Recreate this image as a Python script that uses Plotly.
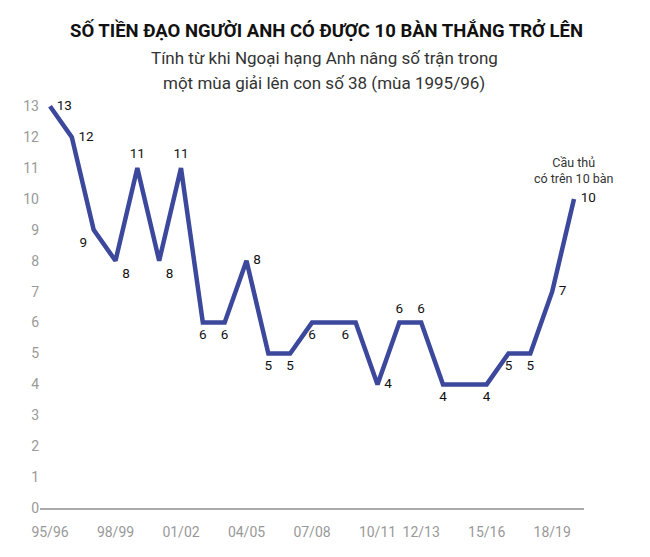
import plotly.graph_objects as go

# Seasons from 95/96 to 19/20
seasons = ['95/96', '96/97', '97/98', '98/99', '99/00', '00/01', '01/02', '02/03',
           '03/04', '04/05', '05/06', '06/07', '07/08', '08/09', '09/10', '10/11',
           '11/12', '12/13', '13/14', '14/15', '15/16', '16/17', '17/18', '18/19',
           '19/20']
strikers = [13, 12, 9, 8, 11, 8, 11, 6, 6, 8, 5, 5, 6, 6, 6, 4, 6, 6, 4, 4, 4, 5, 5, 7, 10]
# labels shown on the line (two middle points of flat runs are unlabelled)
point_labels = ['13', '12', '9', '8', '11', '8', '11', '6', '6', '8', '5', '5', '6', '',
                '6', '4', '6', '6', '4', '', '4', '5', '5', '7', '10']
label_pos = ['middle right', 'middle right', 'bottom left', 'bottom right', 'top center',
             'bottom right', 'top center', 'bottom center', 'bottom center', 'middle right',
             'bottom center', 'bottom center', 'bottom center', 'bottom center',
             'bottom left', 'middle right', 'top center', 'top center', 'bottom center',
             'bottom center', 'bottom center', 'bottom center', 'bottom center',
             'middle right', 'middle right']
tick_seasons = ['95/96', '98/99', '01/02', '04/05', '07/08', '10/11', '12/13', '15/16', '18/19']

title_text = 'SỐ TIỀN ĐẠO NGƯỜI ANH CÓ ĐƯỢC 10 BÀN THẮNG TRỞ LÊN'
subtitle_lines = ['Tính từ khi Ngoại hạng Anh nâng số trận trong',
                  'một mùa giải lên con số 38 (mùa 1995/96)']

FONT = 'Roboto, sans-serif'
LINE_BLUE = '#3c489c'

# page body has an 8px margin, so the figure is a bit smaller than the window
W, H = 642, 549
M = dict(l=32, r=66, t=89, b=49)
plot_w = W - M['l'] - M['r']
plot_h = H - M['t'] - M['b']


def paper_y(px_from_top):
    # convert a pixel position (figure coords, from top) into paper y
    return (H - M['b'] - px_from_top) / plot_h


def paper_x(px_from_left):
    return (px_from_left - M['l']) / plot_w


x_idx = list(range(len(seasons)))
tick_idx = [seasons.index(s) for s in tick_seasons]

fig = go.Figure()

fig.add_trace(go.Scatter(
    x=x_idx,
    y=strikers,
    mode='lines+markers+text',
    line=dict(color=LINE_BLUE, width=4.5),
    marker=dict(size=9, opacity=0),
    text=point_labels,
    textposition=label_pos,
    textfont=dict(family=FONT, size=13.5, color='#111111'),
    hoverinfo='skip',
    cliponaxis=False,
))

fig.add_annotation(
    x=24, y=10.36, xref='x', yref='y',
    text='Cầu thủ<br>có trên 10 bàn',
    showarrow=False,
    font=dict(family=FONT, size=12.5, color='#333333'),
    align='center', yanchor='bottom',
)

# title and subtitle
fig.add_annotation(
    x=paper_x(318), y=paper_y(22), xref='paper', yref='paper',
    text='<b>' + title_text + '</b>',
    showarrow=False, yanchor='middle',
    font=dict(family=FONT, size=18.5, color='#111111'),
)
for i, line in enumerate(subtitle_lines):
    fig.add_annotation(
        x=paper_x(316), y=paper_y(50 + 25 * i), xref='paper', yref='paper',
        text=line,
        showarrow=False, yanchor='middle',
        font=dict(family=FONT, size=17, color='#333333'),
    )

fig.update_layout(
    width=W,
    height=H,
    paper_bgcolor='white',
    plot_bgcolor='white',
    showlegend=False,
    margin=dict(**M, autoexpand=False),
)

fig.update_xaxes(
    range=[-0.458, 24.458],
    tickmode='array',
    tickvals=tick_idx,
    ticktext=tick_seasons,
    showgrid=False,
    zeroline=False,
    showline=True,
    linecolor='#aaaaaa',
    linewidth=1.5,
    ticks='',
    ticklabelstandoff=10,
    automargin=False,
    tickfont=dict(family=FONT, size=14, color='#999999'),
)

fig.update_yaxes(
    range=[0, 13.3],
    tickmode='array',
    tickvals=list(range(0, 14)),
    showgrid=False,
    zeroline=False,
    showline=False,
    ticks='',
    automargin=False,
    tickfont=dict(family=FONT, size=14, color='#999999'),
)

fig.write_html("out.html")
